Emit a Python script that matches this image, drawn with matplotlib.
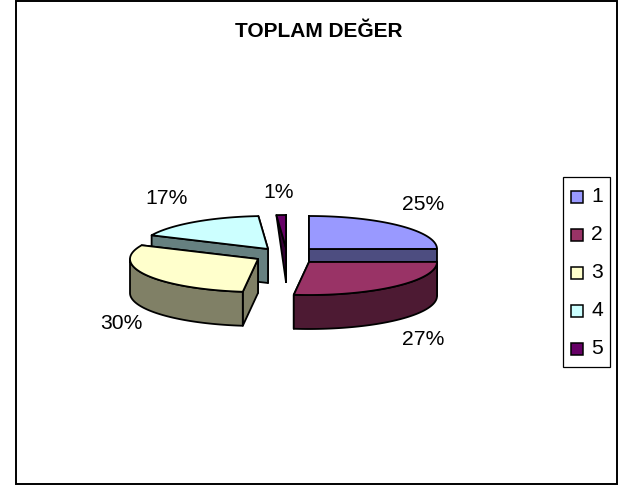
import numpy as np
import matplotlib
matplotlib.use("Agg")
import matplotlib.pyplot as plt
from matplotlib.patches import Polygon, Rectangle

plt.rcParams['font.family'] = ['Liberation Sans', 'DejaVu Sans']

title = "TOPLAM DEĞER"
categories = ["1", "2", "3", "4", "5"]
values = [25, 27, 30, 17, 1.2]
top_colors = ["#9999FF", "#993366", "#FFFFCC", "#CCFFFF", "#660066"]
side_colors = ["#4D4D80", "#4D1A33", "#808066", "#668080", "#330033"]

# layout, in pixels of the 626x486 picture
centers = [(309, 249), (309, 262), (258, 259), (268, 249), (286, 248)]
label_pos = [(423, 204), (423, 339), (121, 323), (167, 198), (279, 192)]
draw_order = [4, 3, 2, 0, 1]
RX, RY, DEPTH = 128, 33, 34
LW = 1.3

fig = plt.figure(figsize=(6.26, 4.86), dpi=100, facecolor="white")
ax = fig.add_axes([0, 0, 1, 1])
ax.set_xlim(0, 626)
ax.set_ylim(486, 0)
ax.axis("off")

ax.add_patch(Rectangle((15.5, 1.5), 601.5, 482.5, fc="white", ec="black", lw=1.4))
ax.text(319, 31.5, title, ha="center", va="center", fontsize=15, fontweight="bold")

fractions = np.array(values) / sum(values)
edges = np.concatenate([[0], np.cumsum(fractions)]) * 360.0


def rim(c, deg):
    t = np.radians(deg)
    return np.column_stack([c[0] + RX * np.sin(t), c[1] - RY * np.cos(t)])


def face(pts, color, z):
    ax.add_patch(Polygon(pts, closed=True, fc=color, ec="black", lw=LW,
                         joinstyle="round", zorder=z))


for rank, i in enumerate(draw_order):
    c = centers[i]
    a0, a1 = edges[i], edges[i + 1]
    z = 2 + rank
    cuts = sorted([a0, a1], key=lambda a: rim(c, a)[0, 1])
    for a in cuts:
        p = rim(c, a)[0]
        if abs(a % 360) < 10 or abs(a - 360) < 10:
            pts = [c, (c[0], c[1] + DEPTH), p]
        else:
            pts = [c, (c[0], c[1] + DEPTH), (p[0], p[1] + DEPTH), p]
        face(pts, side_colors[i], z)
    lo, hi = max(a0, 90), min(a1, 270)
    if hi > lo:
        arc = rim(c, np.linspace(lo, hi, 80))
        low = arc + [0, DEPTH]
        face(np.vstack([arc, low[::-1]]), side_colors[i], z)
    arc = rim(c, np.linspace(a0, a1, 120))
    face(np.vstack([[c], arc]), top_colors[i], z)

for v, (x, y) in zip(fractions, label_pos):
    ax.text(x, y, f"{round(v * 100)}%", ha="center", va="center", fontsize=15.2, zorder=20)

# legend
ax.add_patch(Rectangle((563, 177), 47, 190, fc="white", ec="black", lw=0.9, zorder=15))
for k, (name, col) in enumerate(zip(categories, top_colors)):
    yc = 197 + k * 38
    ax.add_patch(Rectangle((571, yc - 6), 12, 12, fc=col, ec="black", lw=1.1, zorder=16))
    ax.text(591, yc - 1, name, ha="left", va="center", fontsize=15.2, zorder=16)

fig.savefig("out.png", dpi=100, facecolor="white")
